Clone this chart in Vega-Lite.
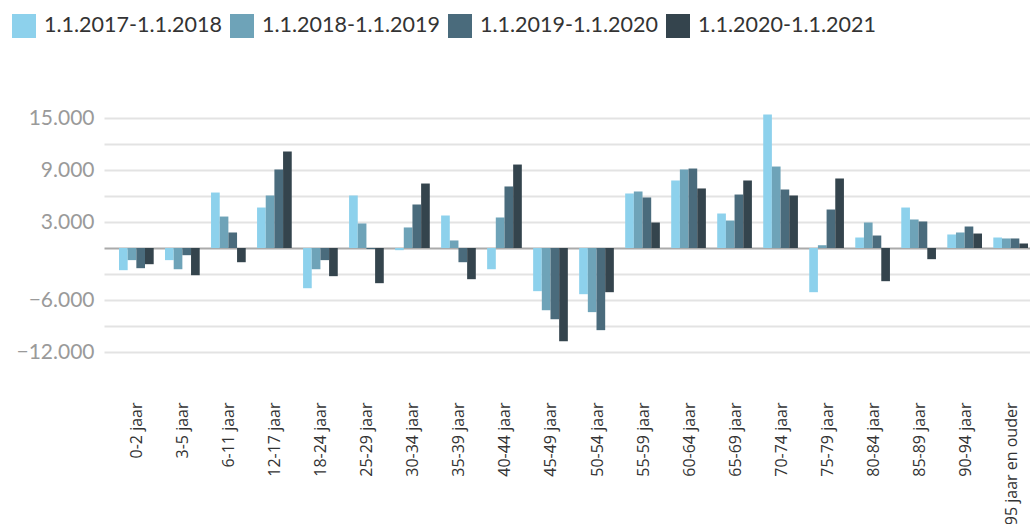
{
  "$schema": "https://vega.github.io/schema/vega-lite/v6.json",
  "autosize": {"type": "none"},
  "width": 939,
  "height": 286,
  "padding": {"left": 104, "top": 92, "right": 0, "bottom": 146},
  "background": "white",
  "config": {
    "font": "Lato",
    "view": {"stroke": null}
  },
  "data": {
    "values": [
      {"leeftijd": "0-2 jaar", "periode": "1.1.2017-1.1.2018", "waarde": -2560},
      {"leeftijd": "0-2 jaar", "periode": "1.1.2018-1.1.2019", "waarde": -1400},
      {"leeftijd": "0-2 jaar", "periode": "1.1.2019-1.1.2020", "waarde": -2330},
      {"leeftijd": "0-2 jaar", "periode": "1.1.2020-1.1.2021", "waarde": -1870},
      {"leeftijd": "3-5 jaar", "periode": "1.1.2017-1.1.2018", "waarde": -1400},
      {"leeftijd": "3-5 jaar", "periode": "1.1.2018-1.1.2019", "waarde": -2450},
      {"leeftijd": "3-5 jaar", "periode": "1.1.2019-1.1.2020", "waarde": -830},
      {"leeftijd": "3-5 jaar", "periode": "1.1.2020-1.1.2021", "waarde": -3140},
      {"leeftijd": "6-11 jaar", "periode": "1.1.2017-1.1.2018", "waarde": 6400},
      {"leeftijd": "6-11 jaar", "periode": "1.1.2018-1.1.2019", "waarde": 3630},
      {"leeftijd": "6-11 jaar", "periode": "1.1.2019-1.1.2020", "waarde": 1790},
      {"leeftijd": "6-11 jaar", "periode": "1.1.2020-1.1.2021", "waarde": -1640},
      {"leeftijd": "12-17 jaar", "periode": "1.1.2017-1.1.2018", "waarde": 4670},
      {"leeftijd": "12-17 jaar", "periode": "1.1.2018-1.1.2019", "waarde": 6060},
      {"leeftijd": "12-17 jaar", "periode": "1.1.2019-1.1.2020", "waarde": 9060},
      {"leeftijd": "12-17 jaar", "periode": "1.1.2020-1.1.2021", "waarde": 11140},
      {"leeftijd": "18-24 jaar", "periode": "1.1.2017-1.1.2018", "waarde": -4640},
      {"leeftijd": "18-24 jaar", "periode": "1.1.2018-1.1.2019", "waarde": -2450},
      {"leeftijd": "18-24 jaar", "periode": "1.1.2019-1.1.2020", "waarde": -1400},
      {"leeftijd": "18-24 jaar", "periode": "1.1.2020-1.1.2021", "waarde": -3250},
      {"leeftijd": "25-29 jaar", "periode": "1.1.2017-1.1.2018", "waarde": 6060},
      {"leeftijd": "25-29 jaar", "periode": "1.1.2018-1.1.2019", "waarde": 2830},
      {"leeftijd": "25-29 jaar", "periode": "1.1.2019-1.1.2020", "waarde": -120},
      {"leeftijd": "25-29 jaar", "periode": "1.1.2020-1.1.2021", "waarde": -4060},
      {"leeftijd": "30-34 jaar", "periode": "1.1.2017-1.1.2018", "waarde": -250},
      {"leeftijd": "30-34 jaar", "periode": "1.1.2018-1.1.2019", "waarde": 2370},
      {"leeftijd": "30-34 jaar", "periode": "1.1.2019-1.1.2020", "waarde": 5020},
      {"leeftijd": "30-34 jaar", "periode": "1.1.2020-1.1.2021", "waarde": 7440},
      {"leeftijd": "35-39 jaar", "periode": "1.1.2017-1.1.2018", "waarde": 3750},
      {"leeftijd": "35-39 jaar", "periode": "1.1.2018-1.1.2019", "waarde": 870},
      {"leeftijd": "35-39 jaar", "periode": "1.1.2019-1.1.2020", "waarde": -1640},
      {"leeftijd": "35-39 jaar", "periode": "1.1.2020-1.1.2021", "waarde": -3600},
      {"leeftijd": "40-44 jaar", "periode": "1.1.2017-1.1.2018", "waarde": -2450},
      {"leeftijd": "40-44 jaar", "periode": "1.1.2018-1.1.2019", "waarde": 3520},
      {"leeftijd": "40-44 jaar", "periode": "1.1.2019-1.1.2020", "waarde": 7100},
      {"leeftijd": "40-44 jaar", "periode": "1.1.2020-1.1.2021", "waarde": 9630},
      {"leeftijd": "45-49 jaar", "periode": "1.1.2017-1.1.2018", "waarde": -4980},
      {"leeftijd": "45-49 jaar", "periode": "1.1.2018-1.1.2019", "waarde": -7180},
      {"leeftijd": "45-49 jaar", "periode": "1.1.2019-1.1.2020", "waarde": -8220},
      {"leeftijd": "45-49 jaar", "periode": "1.1.2020-1.1.2021", "waarde": -10750},
      {"leeftijd": "50-54 jaar", "periode": "1.1.2017-1.1.2018", "waarde": -5330},
      {"leeftijd": "50-54 jaar", "periode": "1.1.2018-1.1.2019", "waarde": -7400},
      {"leeftijd": "50-54 jaar", "periode": "1.1.2019-1.1.2020", "waarde": -9480},
      {"leeftijd": "50-54 jaar", "periode": "1.1.2020-1.1.2021", "waarde": -5100},
      {"leeftijd": "55-59 jaar", "periode": "1.1.2017-1.1.2018", "waarde": 6290},
      {"leeftijd": "55-59 jaar", "periode": "1.1.2018-1.1.2019", "waarde": 6520},
      {"leeftijd": "55-59 jaar", "periode": "1.1.2019-1.1.2020", "waarde": 5830},
      {"leeftijd": "55-59 jaar", "periode": "1.1.2020-1.1.2021", "waarde": 2940},
      {"leeftijd": "60-64 jaar", "periode": "1.1.2017-1.1.2018", "waarde": 7790},
      {"leeftijd": "60-64 jaar", "periode": "1.1.2018-1.1.2019", "waarde": 9060},
      {"leeftijd": "60-64 jaar", "periode": "1.1.2019-1.1.2020", "waarde": 9170},
      {"leeftijd": "60-64 jaar", "periode": "1.1.2020-1.1.2021", "waarde": 6870},
      {"leeftijd": "65-69 jaar", "periode": "1.1.2017-1.1.2018", "waarde": 3980},
      {"leeftijd": "65-69 jaar", "periode": "1.1.2018-1.1.2019", "waarde": 3170},
      {"leeftijd": "65-69 jaar", "periode": "1.1.2019-1.1.2020", "waarde": 6170},
      {"leeftijd": "65-69 jaar", "periode": "1.1.2020-1.1.2021", "waarde": 7790},
      {"leeftijd": "70-74 jaar", "periode": "1.1.2017-1.1.2018", "waarde": 15400},
      {"leeftijd": "70-74 jaar", "periode": "1.1.2018-1.1.2019", "waarde": 9400},
      {"leeftijd": "70-74 jaar", "periode": "1.1.2019-1.1.2020", "waarde": 6750},
      {"leeftijd": "70-74 jaar", "periode": "1.1.2020-1.1.2021", "waarde": 6060},
      {"leeftijd": "75-79 jaar", "periode": "1.1.2017-1.1.2018", "waarde": -5100},
      {"leeftijd": "75-79 jaar", "periode": "1.1.2018-1.1.2019", "waarde": 320},
      {"leeftijd": "75-79 jaar", "periode": "1.1.2019-1.1.2020", "waarde": 4440},
      {"leeftijd": "75-79 jaar", "periode": "1.1.2020-1.1.2021", "waarde": 8020},
      {"leeftijd": "80-84 jaar", "periode": "1.1.2017-1.1.2018", "waarde": 1210},
      {"leeftijd": "80-84 jaar", "periode": "1.1.2018-1.1.2019", "waarde": 2940},
      {"leeftijd": "80-84 jaar", "periode": "1.1.2019-1.1.2020", "waarde": 1440},
      {"leeftijd": "80-84 jaar", "periode": "1.1.2020-1.1.2021", "waarde": -3830},
      {"leeftijd": "85-89 jaar", "periode": "1.1.2017-1.1.2018", "waarde": 4670},
      {"leeftijd": "85-89 jaar", "periode": "1.1.2018-1.1.2019", "waarde": 3290},
      {"leeftijd": "85-89 jaar", "periode": "1.1.2019-1.1.2020", "waarde": 3060},
      {"leeftijd": "85-89 jaar", "periode": "1.1.2020-1.1.2021", "waarde": -1290},
      {"leeftijd": "90-94 jaar", "periode": "1.1.2017-1.1.2018", "waarde": 1560},
      {"leeftijd": "90-94 jaar", "periode": "1.1.2018-1.1.2019", "waarde": 1790},
      {"leeftijd": "90-94 jaar", "periode": "1.1.2019-1.1.2020", "waarde": 2480},
      {"leeftijd": "90-94 jaar", "periode": "1.1.2020-1.1.2021", "waarde": 1670},
      {"leeftijd": "95 jaar en ouder", "periode": "1.1.2017-1.1.2018", "waarde": 1210},
      {"leeftijd": "95 jaar en ouder", "periode": "1.1.2018-1.1.2019", "waarde": 1100},
      {"leeftijd": "95 jaar en ouder", "periode": "1.1.2019-1.1.2020", "waarde": 1100},
      {"leeftijd": "95 jaar en ouder", "periode": "1.1.2020-1.1.2021", "waarde": 520}
    ]
  },
  "mark": {"type": "bar"},
  "encoding": {
    "x": {
      "field": "leeftijd",
      "type": "nominal",
      "sort": null,
      "scale": {"paddingInner": 0.246, "paddingOuter": 0.326},
      "axis": {
        "title": null,
        "domain": false,
        "ticks": false,
        "labelAngle": -90,
        "labelFontSize": 16,
        "labelColor": "#333333",
        "labelPadding": 24,
        "labelFont": "Open Sans",
        "labelLimit": 0,
        "labelOffset": 1
      }
    },
    "xOffset": {"field": "periode", "type": "nominal", "sort": null, "scale": {"paddingInner": 0, "paddingOuter": 0}},
    "y": {
      "field": "waarde",
      "type": "quantitative",
      "scale": {"domain": [-15000, 18000], "nice": false, "zero": false},
      "axis": {
        "title": null,
        "domain": false,
        "ticks": false,
        "values": [-12000, -9000, -6000, -3000, 0, 3000, 6000, 9000, 12000, 15000],
        "labelOverlap": false,
        "labelExpr": "(datum.value == 15000 || datum.value == 9000 || datum.value == 3000 || datum.value == -6000 || datum.value == -12000) ? replace(format(datum.value, ','), ',', '.') : ''",
        "labelFontSize": 21,
        "labelColor": "#9a9a9a",
        "labelPadding": 10,
        "labelFont": "Lato",
        "gridColor": {"condition": {"test": "datum.value === 0", "value": "#aaaaaa"}, "value": "#e3e3e3"},
        "gridWidth": 2
      }
    },
    "color": {
      "field": "periode",
      "type": "nominal",
      "sort": null,
      "scale": {
        "domain": ["1.1.2017-1.1.2018", "1.1.2018-1.1.2019", "1.1.2019-1.1.2020", "1.1.2020-1.1.2021"],
        "range": ["#8dd1ec", "#6ea3b8", "#4a6b7c", "#34444d"]
      },
      "legend": {
        "title": null,
        "orient": "none",
        "direction": "horizontal",
        "legendX": -92,
        "legendY": -78,
        "symbolType": "square",
        "symbolSize": 576,
        "symbolStrokeWidth": 0,
        "labelFontSize": 21.5,
        "labelColor": "#333333",
        "labelFont": "Lato",
        "labelOffset": 8,
        "labelLimit": 0,
        "columnPadding": 8,
        "symbolOpacity": 1
      }
    }
  }
}
